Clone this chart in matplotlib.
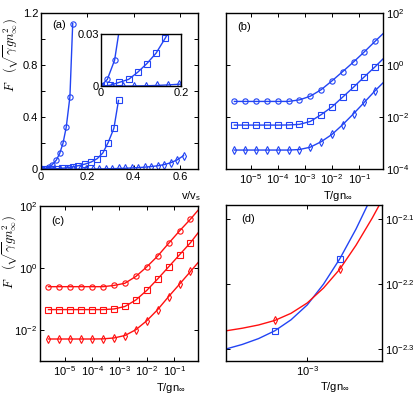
import numpy as np
import matplotlib
matplotlib.use("Agg")
import matplotlib.pyplot as plt
from matplotlib.ticker import NullFormatter

plt.rcParams["font.family"] = ["Liberation Sans", "DejaVu Sans"]
plt.rcParams["mathtext.fontset"] = "cm"
plt.rcParams["font.size"] = 8

BLUE = "#2244f4"
RED = "#ff1010"

# ---- panel (a): F versus v/v_s ----
a_circ_v = [0, 0.017, 0.035, 0.047, 0.066, 0.081, 0.095, 0.109, 0.125, 0.137]
a_circ_F = [0, 0.004, 0.015, 0.033, 0.07, 0.123, 0.20, 0.323, 0.558, 1.12]
a_sq_v = [0, 0.024, 0.047, 0.07, 0.092, 0.115, 0.138, 0.161, 0.19, 0.217,
          0.243, 0.267, 0.29, 0.315, 0.335]
a_sq_F = [0, 0.0006, 0.0023, 0.004, 0.008, 0.013, 0.019, 0.0277, 0.040, 0.056,
          0.082, 0.125, 0.205, 0.315, 0.53]
a_dia_v = [0, 0.028, 0.056, 0.084, 0.112, 0.14, 0.168, 0.196, 0.224, 0.252,
           0.28, 0.308, 0.336, 0.364, 0.392, 0.42, 0.448, 0.476, 0.504, 0.532,
           0.56, 0.588, 0.616]
a_dia_F = [0, 0.0001, 0.0001, 0.0002, 0.0003, 0.0005, 0.0008, 0.0012, 0.0017,
           0.0025, 0.0035, 0.0047, 0.0062, 0.008, 0.0102, 0.013, 0.0165, 0.021,
           0.027, 0.036, 0.05, 0.072, 0.105]

# ---- panels (b), (c): F versus T/gn (log10 of F) ----
T = [2.51e-6, 6.31e-6, 1.58e-5, 3.98e-5, 1.0e-4, 2.51e-4, 6.31e-4, 1.58e-3,
     3.98e-3, 1.0e-2, 2.51e-2, 6.31e-2, 0.158, 0.398, 0.76]
b_circ = [-1.39, -1.39, -1.39, -1.39, -1.39, -1.39, -1.33, -1.19, -0.94, -0.60,
          -0.24, 0.13, 0.52, 0.93, 1.21]
b_sq = [-2.30, -2.30, -2.30, -2.30, -2.30, -2.295, -2.272, -2.161, -1.90, -1.60,
        -1.22, -0.84, -0.44, -0.05, 0.24]
b_dia = [-3.26, -3.26, -3.26, -3.26, -3.26, -3.26, -3.24, -3.15, -2.94, -2.66,
         -2.28, -1.86, -1.42, -0.97, -0.68]
c_circ = [-0.60, -0.60, -0.60, -0.60, -0.60, -0.60, -0.56, -0.49, -0.27, 0.04,
          0.39, 0.80, 1.20, 1.58, 1.87]
c_sq = [-1.34, -1.34, -1.34, -1.34, -1.34, -1.34, -1.32, -1.24, -1.03, -0.72,
        -0.35, 0.04, 0.43, 0.82, 1.14]
c_dia = [-2.29, -2.29, -2.29, -2.29, -2.29, -2.285, -2.256, -2.177, -1.99, -1.70,
         -1.34, -0.92, -0.52, -0.11, 0.18]
n_marked = 14

# ---- panel (d): zoom near T/gn = 1e-3 (log10 values) ----
d_logT = [-3.5, -3.4, -3.3, -3.2, -3.1, -3.0, -2.9, -2.8, -2.7, -2.6, -2.5]
d_blue = [-2.300, -2.293, -2.284, -2.272, -2.255, -2.232, -2.200, -2.161,
          -2.115, -2.063, -2.005]
d_red = [-2.272, -2.268, -2.263, -2.256, -2.245, -2.229, -2.206, -2.177,
         -2.140, -2.098, -2.052]
d_marked = [3, 7]

fig = plt.figure(figsize=(4.15, 3.95), dpi=100)
ax_a = fig.add_axes([0.0988, 0.5714, 0.378, 0.395])
ax_b = fig.add_axes([0.5446, 0.5714, 0.378, 0.395])
ax_c = fig.add_axes([0.0964, 0.0861, 0.381, 0.392])
ax_d = fig.add_axes([0.5446, 0.0861, 0.376, 0.395])
ax_in = fig.add_axes([0.2422, 0.7815, 0.194, 0.1324])

mk = dict(mfc="none", ms=3.8, mew=0.8, lw=1.0)


def style(ax):
    ax.tick_params(which="both", direction="in", top=True, right=True,
                   length=3, width=0.7, labelsize=8, pad=2)
    ax.tick_params(which="minor", length=0)
    ax.xaxis.set_minor_formatter(NullFormatter())
    ax.yaxis.set_minor_formatter(NullFormatter())
    for s in ax.spines.values():
        s.set_linewidth(1.0)


def sup(e):
    return r"$\mathregular{10^{%s}}$" % e


ylab = r"$F\ \ \ (\sqrt{\gamma}gn_\infty^2)$"
xlab = r"$\mathregular{T/gn_{\infty}}$"

# (a)
for v, F, m in [(a_circ_v, a_circ_F, "o"), (a_sq_v, a_sq_F, "s"),
                (a_dia_v, a_dia_F, "d")]:
    ax_a.plot(v, F, marker=m, color=BLUE, **mk)
    ax_in.plot(v, F, marker=m, color=BLUE, **mk)
ax_a.set_xlim(0, 0.678)
ax_a.set_ylim(0, 1.2)
ax_a.set_xticks([0, 0.2, 0.4, 0.6], ["0", "0.2", "0.4", "0.6"])
ax_a.set_yticks([0, 0.2, 0.4, 0.6, 0.8, 1.0, 1.2],
                ["0", "", "0.4", "", "0.8", "", "1.2"])
style(ax_a)
ax_a.set_xlabel(r"$\mathregular{v/v_s}$", fontsize=8)
ax_a.xaxis.set_label_coords(0.955, -0.125)
ax_a.set_ylabel(ylab, fontsize=9)
ax_a.yaxis.set_label_coords(-0.13, 0.73)
ax_a.text(0.07, 0.905, "(a)", transform=ax_a.transAxes, fontsize=8)

ax_in.set_xlim(0, 0.2)
ax_in.set_ylim(0, 0.03)
ax_in.set_xticks([0, 0.2], ["0", "0.2"])
ax_in.set_yticks([0, 0.03], ["0", "0.03"])
style(ax_in)
ax_in.tick_params(length=0, pad=1)

# (b), (c)
for ax, data, col in [(ax_b, (b_circ, b_sq, b_dia), BLUE),
                      (ax_c, (c_circ, c_sq, c_dia), RED)]:
    for logF, m in zip(data, ["o", "s", "d"]):
        ax.plot(T, np.power(10.0, logF), marker=m, color=col,
                markevery=list(range(n_marked)), **mk)
    ax.set_xscale("log")
    ax.set_yscale("log")
    ax.set_xlim(10 ** -5.91, 10 ** -0.12)
    ax.set_xticks([1e-5, 1e-4, 1e-3, 1e-2, 1e-1],
                  [sup(-5), sup(-4), sup(-3), sup(-2), sup(-1)])
    style(ax)

ax_b.set_ylim(1e-4, 1e2)
ax_b.set_yticks([1e-4, 1e-2, 1, 1e2], [sup(-4), sup(-2), sup(0), sup(2)])
ax_b.yaxis.tick_right()
ax_b.tick_params(which="both", left=True, right=True)
ax_b.set_xlabel(xlab, fontsize=8)
ax_b.xaxis.set_label_coords(0.71, -0.125)
ax_b.text(0.07, 0.89, "(b)", transform=ax_b.transAxes, fontsize=8)

ax_c.set_ylim(1e-3, 1e2)
ax_c.set_yticks([1e-2, 1, 1e2], [sup(-2), sup(0), sup(2)])
ax_c.set_xlabel(xlab, fontsize=8)
ax_c.xaxis.set_label_coords(0.83, -0.13)
ax_c.set_ylabel(ylab, fontsize=9)
ax_c.yaxis.set_label_coords(-0.125, 0.70)
ax_c.text(0.07, 0.885, "(c)", transform=ax_c.transAxes, fontsize=8)

# (d)
dT = np.power(10.0, d_logT)
ax_d.plot(dT, np.power(10.0, d_blue), marker="s", color=BLUE,
          markevery=d_marked, **mk)
ax_d.plot(dT, np.power(10.0, d_red), marker="d", color=RED,
          markevery=d_marked, **mk)
ax_d.set_xscale("log")
ax_d.set_yscale("log")
ax_d.set_xlim(10 ** -3.5, 10 ** -2.54)
ax_d.set_ylim(10 ** -2.3185, 10 ** -2.078)
ax_d.set_xticks([1e-3], [sup(-3)])
ax_d.set_yticks([10 ** -2.3, 10 ** -2.2, 10 ** -2.1],
                [sup("-2.3"), sup("-2.2"), sup("-2.1")])
style(ax_d)
ax_d.yaxis.tick_right()
ax_d.tick_params(which="both", left=True, right=True)
ax_d.set_xlabel(xlab, fontsize=8)
ax_d.xaxis.set_label_coords(0.7, -0.125)
ax_d.text(0.1, 0.89, "(d)", transform=ax_d.transAxes, fontsize=8)

fig.savefig("out.png", dpi=100)
